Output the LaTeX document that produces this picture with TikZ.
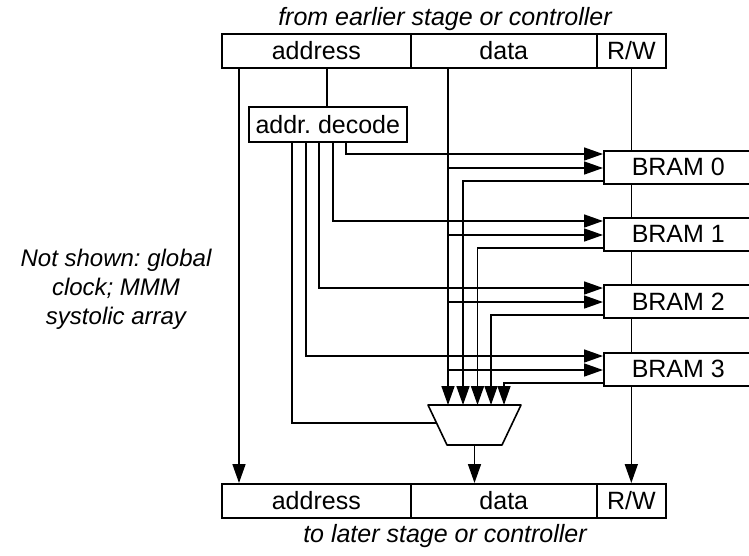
\documentclass[tikz,border=0pt]{standalone}
\usepackage{fontspec}
\setmainfont{Liberation Sans}
\usetikzlibrary{arrows.meta,calc}
\frenchspacing
\begin{document}
\begin{tikzpicture}[x=1pt,y=-1pt,line width=1.6pt,
  txt/.style={font=\fontsize{25}{29}\selectfont},
  itx/.style={font=\fontsize{25}{29}\selectfont\itshape},
  cell/.style={txt,draw,fill=white,minimum height=34pt,inner sep=0pt,anchor=north west},
  arr/.style={-{Triangle[length=19pt,width=13pt]}}]
\useasboundingbox (0,0) rectangle (749,555);

% titles
\node[itx,anchor=base] (ttop) at (445,25) {from earlier stage or controller};
\node[itx,anchor=base] (tbot) at (445,542) {to later stage or controller};
\node[itx,font=\fontsize{24}{29}\selectfont\itshape,align=center] (note) at (116,289) {Not shown: global\\clock; MMM\\systolic array};

% top and bottom bars
\node[cell,minimum width=189pt] (ta) at (221,33) {address};
\node[cell,minimum width=186pt] (td) at (410,33) {data};
\node[cell,minimum width=69pt]  (tr) at (596,33) {R/W};
\node[cell,minimum width=189pt] (ba) at (221,483) {address};
\node[cell,minimum width=186pt] (bd) at (410,483) {data};
\node[cell,minimum width=69pt]  (br) at (596,483) {R/W};

% R/W line (behind the BRAMs)
\draw[arr] (tr.south) -- (br.north);

% decode box
\node[cell,minimum width=158pt,minimum height=35pt] (dec) at (248,106) {addr. decode};

% BRAMs
\node[cell,minimum width=149pt,minimum height=33pt] (b0) at (603,150) {BRAM 0};
\node[cell,minimum width=149pt,minimum height=33pt] (b1) at (603,217) {BRAM 1};
\node[cell,minimum width=149pt,minimum height=33pt] (b2) at (603,284) {BRAM 2};
\node[cell,minimum width=149pt,minimum height=33pt] (b3) at (603,352) {BRAM 3};

% mux
\coordinate (muxN) at (474.5,405);
\coordinate (muxS) at (474.5,445);
\coordinate (muxW) at (436,423);
\draw[line join=round] (428,405) -- (521,405) -- (502,445) -- (447,445) -- cycle;

\foreach \i in {0,...,3} {
  \coordinate (a\i) at ($(b\i.north west)+(0,4)$);
  \coordinate (d\i) at ($(b\i.north west)+(0,18)$);
  \coordinate (o\i) at ($(b\i.north west)+(0,31)$);
}

% address bypass and decode feed
\draw[arr] (239,0 |- ta.south) -- (239,0 |- ba.north);
\draw (327,0 |- ta.south) -- (327,0 |- dec.north);

% decode outputs
\foreach \i/\x in {0/346,1/333,2/319,3/306}
  \draw[arr] (\x,0 |- dec.south) |- (a\i);
\draw (292,0 |- dec.south) |- (muxW);

% data line and data inputs
\draw[arr] (448,0 |- td.south) -- (448,0 |- muxN);
\foreach \i in {0,...,3}
  \draw[arr] (448,0 |- d\i) -- (d\i);

% BRAM outputs to mux
\foreach \i/\x in {0/463,1/477.5,2/491,3/504}
  \draw[arr] (o\i) -| (\x,0 |- muxN);

% mux output
\draw[arr] (muxS) -- (muxS |- bd.north);
\end{tikzpicture}
\end{document}
